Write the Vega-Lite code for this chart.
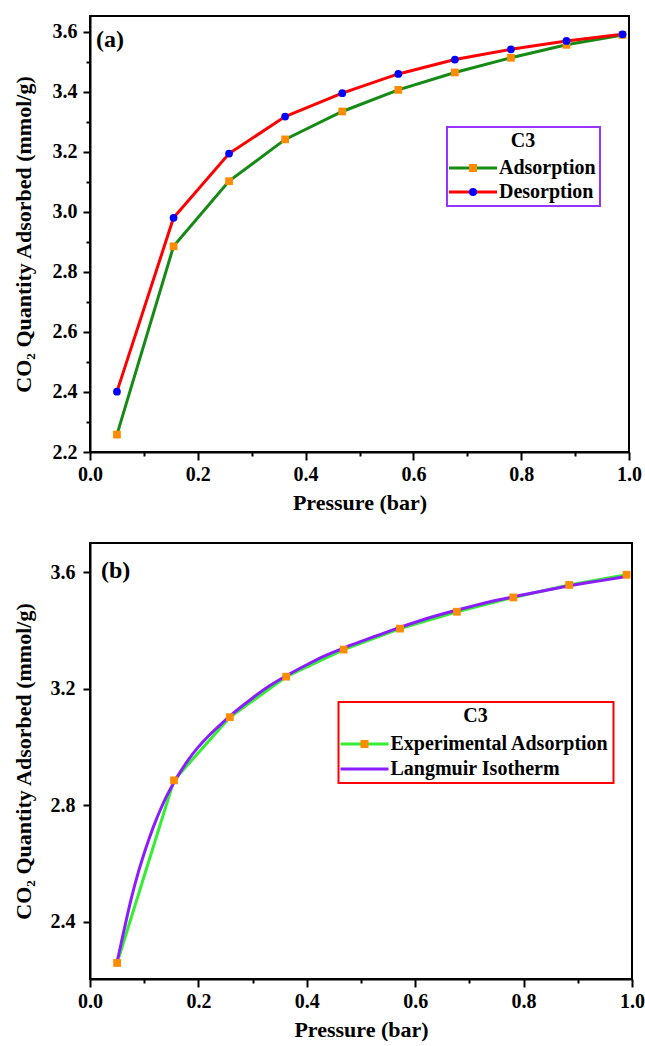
{
  "$schema": "https://vega.github.io/schema/vega-lite/v6.json",
  "background": "white",
  "padding": {"left": 11, "top": 15, "right": 0, "bottom": 0},
  "datasets": {
    "top": [
      {"series": "Adsorption", "p": 0.05, "q": 2.258},
      {"series": "Adsorption", "p": 0.155, "q": 2.885},
      {"series": "Adsorption", "p": 0.258, "q": 3.102},
      {"series": "Adsorption", "p": 0.362, "q": 3.241},
      {"series": "Adsorption", "p": 0.468, "q": 3.334},
      {"series": "Adsorption", "p": 0.572, "q": 3.406},
      {"series": "Adsorption", "p": 0.677, "q": 3.464},
      {"series": "Adsorption", "p": 0.781, "q": 3.513},
      {"series": "Adsorption", "p": 0.884, "q": 3.556},
      {"series": "Adsorption", "p": 0.988, "q": 3.589},
      {"series": "Desorption", "p": 0.05, "q": 2.401},
      {"series": "Desorption", "p": 0.155, "q": 2.98},
      {"series": "Desorption", "p": 0.258, "q": 3.194},
      {"series": "Desorption", "p": 0.362, "q": 3.317},
      {"series": "Desorption", "p": 0.468, "q": 3.395},
      {"series": "Desorption", "p": 0.572, "q": 3.459},
      {"series": "Desorption", "p": 0.677, "q": 3.507},
      {"series": "Desorption", "p": 0.781, "q": 3.541},
      {"series": "Desorption", "p": 0.884, "q": 3.569},
      {"series": "Desorption", "p": 0.988, "q": 3.591}
    ],
    "bottom": [
      {"series": "Experimental Adsorption", "p": 0.05, "q": 2.258},
      {"series": "Experimental Adsorption", "p": 0.155, "q": 2.885},
      {"series": "Experimental Adsorption", "p": 0.258, "q": 3.102},
      {"series": "Experimental Adsorption", "p": 0.362, "q": 3.241},
      {"series": "Experimental Adsorption", "p": 0.468, "q": 3.334},
      {"series": "Experimental Adsorption", "p": 0.572, "q": 3.406},
      {"series": "Experimental Adsorption", "p": 0.677, "q": 3.464},
      {"series": "Experimental Adsorption", "p": 0.781, "q": 3.513},
      {"series": "Experimental Adsorption", "p": 0.884, "q": 3.556},
      {"series": "Experimental Adsorption", "p": 0.99, "q": 3.591},
      {"series": "Langmuir Isotherm", "p": 0.05, "q": 2.262},
      {"series": "Langmuir Isotherm", "p": 0.062, "q": 2.364},
      {"series": "Langmuir Isotherm", "p": 0.076, "q": 2.478},
      {"series": "Langmuir Isotherm", "p": 0.09, "q": 2.575},
      {"series": "Langmuir Isotherm", "p": 0.1, "q": 2.635},
      {"series": "Langmuir Isotherm", "p": 0.11, "q": 2.69},
      {"series": "Langmuir Isotherm", "p": 0.12, "q": 2.74},
      {"series": "Langmuir Isotherm", "p": 0.13, "q": 2.785},
      {"series": "Langmuir Isotherm", "p": 0.14, "q": 2.826},
      {"series": "Langmuir Isotherm", "p": 0.155, "q": 2.878},
      {"series": "Langmuir Isotherm", "p": 0.18, "q": 2.952},
      {"series": "Langmuir Isotherm", "p": 0.2, "q": 3.0},
      {"series": "Langmuir Isotherm", "p": 0.22, "q": 3.04},
      {"series": "Langmuir Isotherm", "p": 0.24, "q": 3.075},
      {"series": "Langmuir Isotherm", "p": 0.259, "q": 3.107},
      {"series": "Langmuir Isotherm", "p": 0.3, "q": 3.168},
      {"series": "Langmuir Isotherm", "p": 0.33, "q": 3.208},
      {"series": "Langmuir Isotherm", "p": 0.364, "q": 3.246},
      {"series": "Langmuir Isotherm", "p": 0.4, "q": 3.282},
      {"series": "Langmuir Isotherm", "p": 0.43, "q": 3.31},
      {"series": "Langmuir Isotherm", "p": 0.469, "q": 3.34},
      {"series": "Langmuir Isotherm", "p": 0.5, "q": 3.362},
      {"series": "Langmuir Isotherm", "p": 0.54, "q": 3.389},
      {"series": "Langmuir Isotherm", "p": 0.573, "q": 3.411},
      {"series": "Langmuir Isotherm", "p": 0.62, "q": 3.44},
      {"series": "Langmuir Isotherm", "p": 0.678, "q": 3.47},
      {"series": "Langmuir Isotherm", "p": 0.73, "q": 3.495},
      {"series": "Langmuir Isotherm", "p": 0.783, "q": 3.516},
      {"series": "Langmuir Isotherm", "p": 0.84, "q": 3.537},
      {"series": "Langmuir Isotherm", "p": 0.888, "q": 3.554},
      {"series": "Langmuir Isotherm", "p": 0.94, "q": 3.57},
      {"series": "Langmuir Isotherm", "p": 0.99, "q": 3.585}
    ]
  },
  "spacing": 28,
  "vconcat": [
    {
      "width": 539,
      "height": 436,
      "title": {"text": "(a)", "anchor": "start", "frame": "group", "offset": -36, "dx": 6, "font": "Liberation Serif", "fontSize": 24, "fontWeight": "bold", "color": "black"},
      "data": {"name": "top"},
      "encoding": {
        "x": {"field": "p", "type": "quantitative", "scale": {"domain": [0, 1], "nice": false, "zero": false},
          "axis": {"title": "Pressure (bar)", "values": [0, 0.1, 0.2, 0.3, 0.4, 0.5, 0.6, 0.7, 0.8, 0.9, 1.0],
            "labelExpr": "round(datum.value*10) % 2 == 0 ? format(datum.value, '.1f') : ''",
            "tickSize": {"condition": {"test": "round(datum.value*10) % 2 == 0", "value": 8}, "value": 4},
            "labelPadding": 4, "titlePadding": 8}},
        "y": {"field": "q", "type": "quantitative", "scale": {"domain": [2.2, 3.652], "nice": false, "zero": false},
          "axis": {"title": "CO₂ Quantity Adsorbed (mmol/g)", "values": [2.2, 2.3, 2.4, 2.5, 2.6, 2.7, 2.8, 2.9, 3.0, 3.1, 3.2, 3.3, 3.4, 3.5, 3.6],
            "labelExpr": "round(datum.value*10) % 2 == 0 ? format(datum.value, '.1f') : ''",
            "tickSize": {"condition": {"test": "round(datum.value*10) % 2 == 0", "value": 7}, "value": 4},
            "labelPadding": 6, "titlePadding": 17}}
      },
      "layer": [
        {
          "mark": {"type": "line", "strokeWidth": 3},
          "encoding": {
            "color": {"field": "series", "type": "nominal", "scale": {"range": ["#158a15", "#ff0000"]},
              "legend": {"orient": "none", "legendX": 357, "legendY": 111, "title": "C3", "titleAnchor": "middle",
                "titleFont": "Liberation Serif", "titleFontSize": 20, "titleFontWeight": "bold", "titleColor": "black", "titlePadding": 7,
                "labelFont": "Liberation Serif", "labelFontSize": 20, "labelFontWeight": "bold", "labelColor": "black", "labelLimit": 400,
                "symbolType": "M-6,0H6", "symbolSize": 64, "symbolStrokeWidth": 3, "symbolOffset": 12, "labelOffset": 16, "rowPadding": 4,
                "padding": 4, "strokeColor": "#9933ff",
                "encode": {"legend": {"update": {"strokeWidth": {"value": 2}}}}}}
          }
        },
        {
          "mark": {"type": "point", "filled": true, "size": 60, "opacity": 1, "strokeWidth": 0},
          "encoding": {
            "fill": {"field": "series", "type": "nominal", "scale": {"domain": ["Adsorption", "Desorption"], "range": ["#ff8c00", "#0000ff"]},
              "legend": {"orient": "none", "legendX": 357, "legendY": 111, "title": "C3", "titleAnchor": "middle", "zindex": 2,
                "titleFont": "Liberation Serif", "titleFontSize": 20, "titleFontWeight": "bold", "titleColor": "black", "titlePadding": 7, "titleOpacity": 0,
                "labelFont": "Liberation Serif", "labelFontSize": 20, "labelFontWeight": "bold", "labelColor": "black", "labelOpacity": 0, "labelLimit": 400,
                "symbolSize": 64, "symbolStrokeWidth": 3, "symbolStrokeColor": "transparent", "symbolOffset": 12, "labelOffset": 16, "rowPadding": 4, "padding": 4}},
            "shape": {"field": "series", "type": "nominal", "scale": {"domain": ["Adsorption", "Desorption"], "range": ["square", "circle"]},
              "legend": {"orient": "none", "legendX": 357, "legendY": 111, "title": "C3", "titleAnchor": "middle", "zindex": 2,
                "titleFont": "Liberation Serif", "titleFontSize": 20, "titleFontWeight": "bold", "titleColor": "black", "titlePadding": 7, "titleOpacity": 0,
                "labelFont": "Liberation Serif", "labelFontSize": 20, "labelFontWeight": "bold", "labelColor": "black", "labelOpacity": 0, "labelLimit": 400,
                "symbolSize": 64, "symbolStrokeWidth": 3, "symbolStrokeColor": "transparent", "symbolOffset": 12, "labelOffset": 16, "rowPadding": 4, "padding": 4}}
          }
        }
      ]
    },
    {
      "width": 542,
      "height": 436,
      "title": {"text": "(b)", "anchor": "start", "frame": "group", "offset": -40, "dx": 11, "font": "Liberation Serif", "fontSize": 24, "fontWeight": "bold", "color": "black"},
      "data": {"name": "bottom"},
      "encoding": {
        "x": {"field": "p", "type": "quantitative", "scale": {"domain": [0, 1], "nice": false, "zero": false},
          "axis": {"title": "Pressure (bar)", "values": [0, 0.1, 0.2, 0.3, 0.4, 0.5, 0.6, 0.7, 0.8, 0.9, 1.0],
            "labelExpr": "round(datum.value*10) % 2 == 0 ? format(datum.value, '.1f') : ''",
            "tickSize": {"condition": {"test": "round(datum.value*10) % 2 == 0", "value": 8}, "value": 4},
            "labelPadding": 4, "titlePadding": 8}},
        "y": {"field": "q", "type": "quantitative", "scale": {"domain": [2.203, 3.7], "nice": false, "zero": false},
          "axis": {"title": "CO₂ Quantity Adsorbed (mmol/g)", "values": [2.4, 2.8, 3.2, 3.6],
            "format": ".1f", "tickSize": 7,
            "labelPadding": 8, "titlePadding": 15}}
      },
      "layer": [
        {
          "transform": [{"filter": "datum.series == 'Experimental Adsorption'"}],
          "mark": {"type": "line", "strokeWidth": 3},
          "encoding": {
            "color": {"field": "series", "type": "nominal", "scale": {"domain": ["Experimental Adsorption", "Langmuir Isotherm"], "range": ["#33ee33", "#8a1cff"]},
              "legend": {"orient": "none", "legendX": 248.5, "legendY": 159, "title": "C3", "titleAnchor": "middle",
                "titleFont": "Liberation Serif", "titleFontSize": 20, "titleFontWeight": "bold", "titleColor": "black", "titlePadding": 8,
                "labelFont": "Liberation Serif", "labelFontSize": 20, "labelFontWeight": "bold", "labelColor": "black", "labelLimit": 400,
                "symbolType": "M-6,0H6", "symbolSize": 64, "symbolStrokeWidth": 3, "symbolOffset": 12, "labelOffset": 16, "rowPadding": 5,
                "padding": 4, "strokeColor": "#ff0000",
                "encode": {"legend": {"update": {"strokeWidth": {"value": 2}}}}}}
          }
        },
        {
          "transform": [{"filter": "datum.series == 'Langmuir Isotherm'"}],
          "mark": {"type": "line", "strokeWidth": 3, "interpolate": "monotone"},
          "encoding": {
            "color": {"field": "series", "type": "nominal"}
          }
        },
        {
          "transform": [{"filter": "datum.series == 'Experimental Adsorption'"}],
          "mark": {"type": "point", "filled": true, "size": 60, "opacity": 1, "strokeWidth": 0},
          "encoding": {
            "fill": {"field": "series", "type": "nominal", "scale": {"domain": ["Experimental Adsorption"], "range": ["#ff8c00"]},
              "legend": {"orient": "none", "legendX": 248.5, "legendY": 159, "title": "C3", "titleAnchor": "middle", "zindex": 2,
                "titleFont": "Liberation Serif", "titleFontSize": 20, "titleFontWeight": "bold", "titleColor": "black", "titlePadding": 8, "titleOpacity": 0,
                "labelFont": "Liberation Serif", "labelFontSize": 20, "labelFontWeight": "bold", "labelColor": "black", "labelOpacity": 0, "labelLimit": 400,
                "symbolSize": 64, "symbolStrokeWidth": 3, "symbolStrokeColor": "transparent", "symbolOffset": 12, "labelOffset": 16, "rowPadding": 5, "padding": 4}},
            "shape": {"field": "series", "type": "nominal", "scale": {"domain": ["Experimental Adsorption"], "range": ["square"]},
              "legend": {"orient": "none", "legendX": 248.5, "legendY": 159, "title": "C3", "titleAnchor": "middle", "zindex": 2,
                "titleFont": "Liberation Serif", "titleFontSize": 20, "titleFontWeight": "bold", "titleColor": "black", "titlePadding": 8, "titleOpacity": 0,
                "labelFont": "Liberation Serif", "labelFontSize": 20, "labelFontWeight": "bold", "labelColor": "black", "labelOpacity": 0, "labelLimit": 400,
                "symbolSize": 64, "symbolStrokeWidth": 3, "symbolStrokeColor": "transparent", "symbolOffset": 12, "labelOffset": 16, "rowPadding": 5, "padding": 4}}
          }
        }
      ]
    }
  ],
  "resolve": {"scale": {"color": "independent", "fill": "independent", "shape": "independent"}},
  "config": {
    "view": {"stroke": "black", "strokeWidth": 2},
    "axis": {"domainColor": "black", "domainWidth": 2, "tickColor": "black", "tickWidth": 2, "grid": false,
      "labelFont": "Liberation Serif", "labelFontSize": 20, "labelFontWeight": "bold", "labelColor": "black",
      "titleFont": "Liberation Serif", "titleFontSize": 22, "titleFontWeight": "bold", "titleColor": "black",
      "labelFlush": false, "labelOverlap": false}
  }
}
